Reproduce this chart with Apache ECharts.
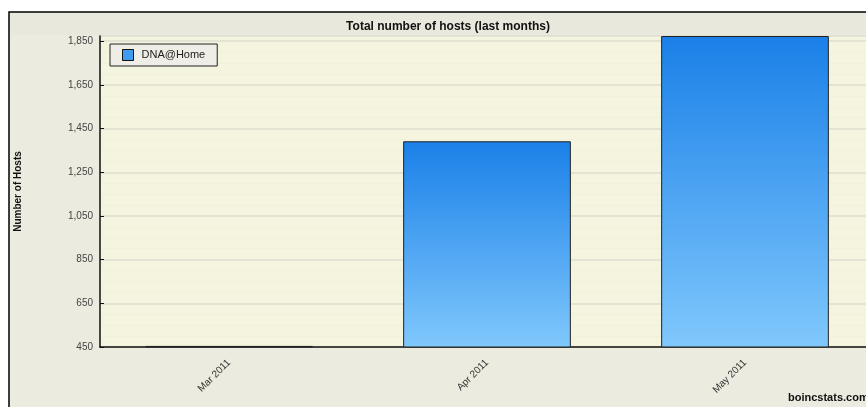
<!DOCTYPE html>
<html>
<head>
<meta charset="utf-8">
<script src="https://cdn.jsdelivr.net/npm/echarts@6/dist/echarts.min.js"></script>
<style>
  html, body { margin: 0; padding: 0; background: #fff; overflow: hidden; }
  #chart { width: 874px; height: 407px; }
</style>
</head>
<body>
<div id="chart"></div>
<script>
// data
const months = ['Mar 2011', 'Apr 2011', 'May 2011'];
const hosts = [455, 1392, 1874];
const seriesName = 'DNA@Home';

// chart is a bit wider than the window: the right edge is cut off like in the picture
const chart = echarts.init(document.getElementById('chart'));

const font = 'Arial, "Liberation Sans", sans-serif';

const option = {
    backgroundColor: '#fff',
    animation: false,
    graphic: [
        // outer frame
        {
            type: 'rect', z: -10,
            shape: { x: 9, y: 12, width: 880, height: 400 },
            style: { fill: '#ecebdf', stroke: '#000', lineWidth: 1.5 }
        },
        // title band
        {
            type: 'rect', z: -9,
            shape: { x: 10, y: 13, width: 870, height: 22 },
            style: { fill: '#e8e8dc' }
        },
        {
            type: 'text', left: 788, top: 392,
            style: { text: 'boincstats.com', font: 'bold 11px ' + font, fill: '#111' }
        }
    ],
    title: {
        text: 'Total number of hosts (last months)',
        left: 443, top: 16,
        textAlign: 'center',
        textStyle: { fontSize: 12, fontWeight: 'bold', color: '#111', fontFamily: font }
    },
    legend: {
        left: 110, top: 44,
        orient: 'vertical',
        backgroundColor: '#efeee6',
        borderColor: '#222',
        borderWidth: 1,
        borderRadius: 0,
        padding: [5, 12, 5, 12],
        itemWidth: 11, itemHeight: 11,
        icon: 'rect',
        textStyle: { fontSize: 11, color: '#222', fontFamily: font, padding: [0, 0, 0, 3] },
        data: [{ name: seriesName, itemStyle: { color: '#3d9cf0', borderColor: '#111', borderWidth: 1 } }]
    },
    grid: {
        left: 100, right: 0, top: 36, bottom: 60,
        show: true,
        backgroundColor: '#f5f5df',
        borderWidth: 0
    },
    xAxis: {
        type: 'category',
        data: months,
        axisLine: { lineStyle: { color: '#111', width: 1.5 } },
        axisTick: { inside: true, length: 6, lineStyle: { color: '#111' } },
        axisLabel: {
            rotate: 45, margin: 14,
            fontSize: 10, color: '#333',
            fontFamily: font
        }
    },
    yAxis: {
        type: 'value',
        min: 450, max: 1874, interval: 200,
        name: 'Number of Hosts',
        nameLocation: 'middle',
        nameGap: 77,
        nameRotate: 90,
        nameTextStyle: { fontSize: 10, fontWeight: 'bold', color: '#111', fontFamily: font },
        axisLine: { show: true, lineStyle: { color: '#111', width: 1.5 } },
        axisTick: { show: true, inside: true, length: 4, lineStyle: { color: '#111' } },
        axisLabel: {
            showMaxLabel: false,
            fontSize: 10, color: '#444', margin: 7,
            fontFamily: font,
            formatter: v => v.toLocaleString('en-US')
        },
        splitLine: { lineStyle: { color: '#dedcd0', width: 1.5 } },
        minorTick: { show: false, splitNumber: 4 },
        minorSplitLine: { show: true, lineStyle: { color: '#ececd8', type: 'dotted' } }
    },
    series: [
        {
            name: seriesName,
            type: 'bar',
            data: hosts,
            barWidth: '65%',
            itemStyle: {
                borderColor: '#222',
                borderWidth: 1,
                color: new echarts.graphic.LinearGradient(0, 0, 0, 1, [
                    { offset: 0, color: '#1a80e8' },
                    { offset: 1, color: '#80c8fc' }
                ])
            }
        }
    ]
};

chart.setOption(option);
</script>
</body>
</html>
